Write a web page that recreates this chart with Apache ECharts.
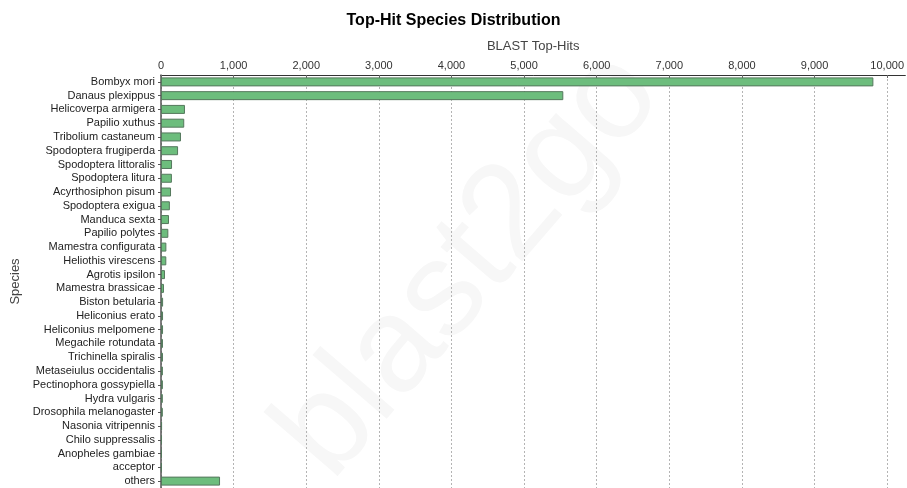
<!DOCTYPE html>
<html>
<head>
<meta charset="utf-8">
<script src="https://cdn.jsdelivr.net/npm/echarts@6/dist/echarts.min.js"></script>
<style>
  html, body { margin: 0; padding: 0; background: #fff; }
  #chart { width: 907px; height: 488px; }
</style>
</head>
<body>
<div id="chart"></div>
<script>
// Species ranked by number of BLAST top hits
const species = [
  'Bombyx mori', 'Danaus plexippus', 'Helicoverpa armigera', 'Papilio xuthus',
  'Tribolium castaneum', 'Spodoptera frugiperda', 'Spodoptera littoralis',
  'Spodoptera litura', 'Acyrthosiphon pisum', 'Spodoptera exigua', 'Manduca sexta',
  'Papilio polytes', 'Mamestra configurata', 'Heliothis virescens', 'Agrotis ipsilon',
  'Mamestra brassicae', 'Biston betularia', 'Heliconius erato', 'Heliconius melpomene',
  'Megachile rotundata', 'Trichinella spiralis', 'Metaseiulus occidentalis',
  'Pectinophora gossypiella', 'Hydra vulgaris', 'Drosophila melanogaster',
  'Nasonia vitripennis', 'Chilo suppressalis', 'Anopheles gambiae', 'acceptor', 'others'
];

const topHits = [
  9810, 5540, 330, 320, 275, 235, 152, 150, 138, 122, 110, 101, 74, 73, 55,
  41, 29, 28, 28, 27, 27, 26, 26, 25, 25, 15, 14, 13, 12, 813
];

const chartTitle = 'Top-Hit Species Distribution';
const xAxisName = 'BLAST Top-Hits';
const yAxisName = 'Species';
const watermark = 'blast2go';

const chart = echarts.init(document.getElementById('chart'));

const labelFont = '"Liberation Sans", Arial, sans-serif';

chart.setOption({
  backgroundColor: '#ffffff',
  animation: false,
  title: {
    text: chartTitle,
    left: 'center',
    top: 8,
    textStyle: {
      fontFamily: labelFont,
      fontWeight: 'bold',
      fontSize: 16,
      color: '#000'
    }
  },
  graphic: [{
    type: 'text',
    z: -10,
    silent: true,
    x: 470,
    y: 265,
    rotation: 0.86,
    style: {
      text: watermark,
      fontFamily: labelFont,
      fontSize: 135,
      fill: '#f7f7f7',
      align: 'center',
      verticalAlign: 'middle'
    }
  }],
  grid: {
    left: 161,
    right: 1,
    top: 75,
    bottom: 0,
    containLabel: false
  },
  xAxis: {
    type: 'value',
    position: 'top',
    min: 0,
    max: 10250,
    interval: 1000,
    name: xAxisName,
    nameLocation: 'middle',
    nameGap: 22,
    nameTextStyle: {
      fontFamily: labelFont,
      fontSize: 13,
      color: '#444'
    },
    axisLine: { show: true, lineStyle: { color: '#333', width: 1 } },
    axisTick: { show: true, inside: true, length: 3, lineStyle: { color: '#666' } },
    axisLabel: {
      fontFamily: labelFont,
      fontSize: 11,
      color: '#333',
      margin: 4,
      showMaxLabel: false,
      formatter: v => (v % 1000 === 0 ? v.toLocaleString('en-US') : '')
    },
    splitLine: {
      show: true,
      showMaxLine: false,
      lineStyle: { color: '#b4b4b4', type: [2, 2], width: 1 }
    }
  },
  yAxis: {
    type: 'category',
    inverse: true,
    data: species,
    name: yAxisName,
    nameLocation: 'middle',
    nameGap: 130,
    nameRotate: 90,
    nameTextStyle: {
      fontFamily: labelFont,
      fontSize: 13,
      color: '#444'
    },
    axisLine: { show: true, lineStyle: { color: '#555', width: 1.5 } },
    axisTick: { show: true, alignWithLabel: true, interval: 0, length: 3, lineStyle: { color: '#555' } },
    axisLabel: {
      interval: 0,
      fontFamily: labelFont,
      fontSize: 11,
      color: '#222',
      margin: 6
    },
    splitLine: { show: false }
  },
  series: [{
    type: 'bar',
    data: topHits,
    barWidth: 9,
    itemStyle: {
      color: '#6dbd7d',
      borderColor: '#55785d',
      borderWidth: 1
    }
  }]
});
</script>
</body>
</html>
